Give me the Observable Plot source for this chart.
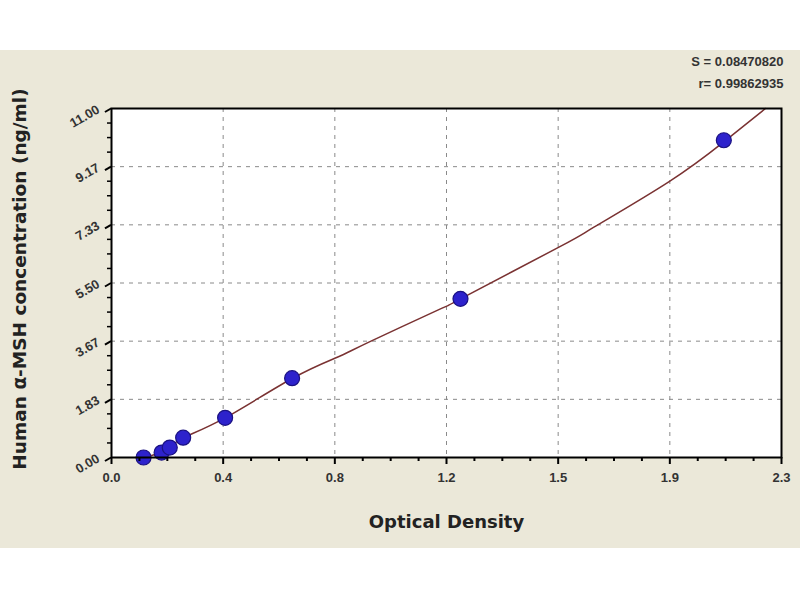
<!DOCTYPE html>
<html>
<head>
<meta charset="utf-8">
<script src="https://cdn.jsdelivr.net/npm/d3@7"></script>
<script src="https://cdn.jsdelivr.net/npm/@observablehq/plot@0.6"></script>
<style>
  html, body { margin: 0; padding: 0; background: #ffffff; }
  #wrap { position: relative; width: 800px; height: 600px; font-family: Arial, "Liberation Sans", sans-serif; }
  #band { position: absolute; left: 0; top: 50px; width: 800px; height: 498px; background: #ebe8d9; }
  #chart { position: absolute; left: 0; top: 0; }
</style>
</head>
<body>
<div id="wrap"><div id="band"></div><div id="chart"></div></div>
<script>
// Standards: optical density vs concentration (ng/ml)
const odValues   = [0.110, 0.172, 0.200, 0.246, 0.390, 0.620, 1.198, 2.102];
const concValues = [0.00, 0.156, 0.3125, 0.625, 1.25, 2.50, 5.00, 10.00];

// Fitted curve
const curveOD   = [0.110, 0.172, 0.200, 0.246, 0.390, 0.620, 0.775, 0.889, 1.133, 1.198, 1.536, 1.656, 1.913, 2.102, 2.245];
const curveConc = [0.00, 0.16, 0.31, 0.62, 1.25, 2.49, 3.16, 3.66, 4.70, 5.00, 6.63, 7.26, 8.69, 9.95, 11.00];

// Axis ticks
const xTickValues = [0, 0.38333, 0.76667, 1.15, 1.53333, 1.91667, 2.3];
const xTickLabels = ["0.0", "0.4", "0.8", "1.2", "1.5", "1.9", "2.3"];
const yTickValues = [0, 1.83333, 3.66667, 5.5, 7.33333, 9.16667, 11];
const yTickLabels = ["0.00", "1.83", "3.67", "5.50", "7.33", "9.17", "11.00"];

const xTitle = "Optical Density";
const yTitle = "Human \u03b1-MSH concentration (ng/ml)";
const statLines = ["S = 0.08470820", "r= 0.99862935"];

const standards = odValues.map((x, i) => ({x, y: concValues[i]}));
const curve = curveOD.map((x, i) => ({x, y: curveConc[i]}));

function minorTicks(majors, sub) {
  const out = [];
  for (let i = 0; i < majors.length - 1; i++) {
    const a = majors[i], b = majors[i + 1];
    for (let k = 1; k < sub; k++) out.push(a + (b - a) * k / sub);
  }
  return out;
}
const xMinor = minorTicks(xTickValues, 4);
const yMinor = minorTicks(yTickValues, 4);

const font = "Arial, 'Liberation Sans', sans-serif";
const titleFont = "'DejaVu Sans', Verdana, sans-serif";

const chart = Plot.plot({
  width: 800,
  height: 600,
  marginLeft: 111,
  marginRight: 19,
  marginTop: 108,
  marginBottom: 143,
  style: { background: "transparent", fontFamily: font, overflow: "visible" },
  x: { domain: [0, 2.3] },
  y: { domain: [0, 11] },
  marks: [
    Plot.frame({ fill: "white" }),
    Plot.gridX(xTickValues.slice(1, -1), { stroke: "#8a8a8a", strokeOpacity: 1, strokeDasharray: "4,5" }),
    Plot.gridY(yTickValues.slice(1, -1), { stroke: "#8a8a8a", strokeOpacity: 1, strokeDasharray: "4,5" }),
    Plot.line(curve, { x: "x", y: "y", curve: "natural", stroke: "#7a3232", strokeWidth: 1.5 }),
    Plot.dot(standards, { x: "x", y: "y", r: 7.5, fill: "#2d22cc", stroke: "#1b1282", strokeWidth: 1.2 }),
    Plot.frame({ stroke: "black", strokeWidth: 2 }),
    Plot.axisX(xTickValues, {
      tickFormat: d => xTickLabels[xTickValues.indexOf(d)],
      tickSize: 7, tickPadding: 8, fontSize: 13, fontWeight: "bold", fill: "#333", stroke: "black", strokeWidth: 2, label: null
    }),
    Plot.axisX(xMinor, { tickFormat: () => "", tickSize: 4, stroke: "black", strokeWidth: 2, label: null }),
    Plot.axisY(yTickValues, {
      tickFormat: d => yTickLabels[yTickValues.indexOf(d)],
      tickSize: 7, tickPadding: 6, fontSize: 13, fontWeight: "bold", fill: "#333", stroke: "black", strokeWidth: 2,
      rotate: -30, textAnchor: "end", label: null
    }),
    Plot.axisY(yMinor, { tickFormat: () => "", tickSize: 4, stroke: "black", strokeWidth: 1.5, label: null }),
    Plot.text([xTitle], { frameAnchor: "bottom", dy: 70, fontSize: 18, fontWeight: "bold", fontFamily: titleFont, fill: "#222" }),
    Plot.text([yTitle], { frameAnchor: "left", textAnchor: "middle", dx: -91, dy: -4, rotate: -90, fontSize: 18.5, fontWeight: "bold", fontFamily: titleFont, fill: "#222" }),
    Plot.text([statLines[0]], { frameAnchor: "top-right", dx: 2, dy: -52, textAnchor: "end", fontSize: 13, fontWeight: "bold", fill: "#333" }),
    Plot.text([statLines[1]], { frameAnchor: "top-right", dx: 2, dy: -30, textAnchor: "end", fontSize: 13, fontWeight: "bold", fill: "#333" })
  ]
});
document.getElementById("chart").appendChild(chart);
</script>
</body>
</html>
